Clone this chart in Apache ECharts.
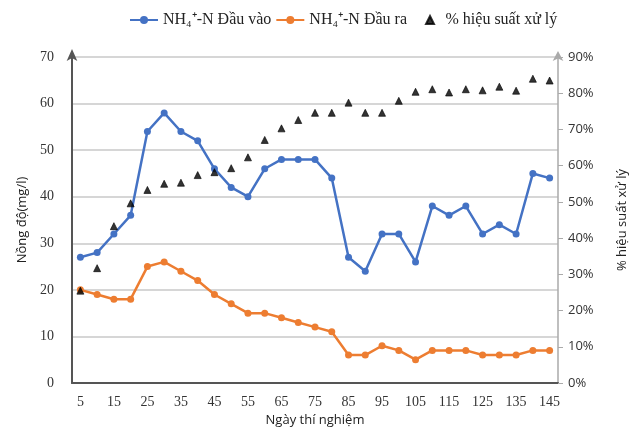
<!DOCTYPE html>
<html>
<head>
<meta charset="utf-8">
<script src="https://cdn.jsdelivr.net/npm/echarts@6/dist/echarts.min.js"></script>
<style>html,body{margin:0;padding:0;background:#fff}#c{width:631px;height:442px}</style>
</head>
<body>
<div id="c"></div>
<script>
var days = [5,10,15,20,25,30,35,40,45,50,55,60,65,70,75,80,85,90,95,100,105,110,115,120,125,130,135,140,145];
var inflow = [27,28,32,36,54,58,54,52,46,42,40,46,48,48,48,44,27,24,32,32,26,38,36,38,32,34,32,45,44];
var outflow = [20,19,18,18,25,26,24,22,19,17,15,15,14,13,12,11,6,6,8,7,5,7,7,7,6,6,6,7,7];
var efficiency = [25.5,31.7,43.3,49.6,53.3,55,55.3,57.4,58.2,59.3,62.3,67.1,70.3,72.6,74.6,74.6,77.4,74.6,74.6,77.9,80.4,81.1,80.2,81.1,80.8,81.8,80.7,84,83.5];
var leftTicks = {min:0, max:70, interval:10};
var rightTicks = {min:0, max:90, interval:10};

var chart = echarts.init(document.getElementById('c'));
var serif = 'Liberation Serif';
var sans = 'Open Sans';
var tri = 'path://M5,0 L10,10 L0,10 Z';
chart.setOption({
  animation: false,
  backgroundColor: '#fff',
  legend: [{
    top: 7, left: 124, itemGap: 4, itemWidth: 28, itemHeight: 10,
    textStyle: {fontFamily: serif, fontSize: 16, color: '#222'},
    data: ['NH₄⁺-N Đầu vào', 'NH₄⁺-N Đầu ra']
  },{
    top: 7, left: 420, itemWidth: 9, itemHeight: 8,
    textStyle: {fontFamily: serif, fontSize: 16, color: '#222', padding: [0,0,0,6]},
    data: [{name: '% hiệu suất xử lý', icon: tri, itemStyle:{color:'#000'}}]
  }],
  grid: {left: 72, right: 73, top: 57, bottom: 59, containLabel: false, outerBoundsMode: 'none'},
  xAxis: {
    type: 'category', data: days, boundaryGap: true,
    name: 'Ngày thí nghiệm', nameLocation: 'middle', nameGap: 31,
    nameTextStyle: {fontFamily: sans, fontSize: 13, color: '#222'},
    axisLine: {lineStyle: {color: '#555', width: 2}},
    axisTick: {show: false},
    axisLabel: {interval: 1, fontFamily: serif, fontSize: 14, color: '#333', margin: 12}
  },
  yAxis: [{
    type: 'value', min: leftTicks.min, max: leftTicks.max, interval: leftTicks.interval,
    name: 'Nồng độ(mg/l)', nameLocation: 'middle', nameGap: 43, nameRotate: 90,
    nameTextStyle: {fontFamily: sans, fontSize: 13, color: '#222'},
    axisLine: {show: true, lineStyle: {color: '#555', width: 2}, symbol: ['none','arrow'], symbolSize: [8,12], symbolOffset: [0, 8]},
    axisTick: {show: false},
    axisLabel: {fontFamily: serif, fontSize: 14, color: '#333', margin: 18},
    splitLine: {lineStyle: {color: '#c8c8c8', width: 1.5}}
  },{
    type: 'value', min: rightTicks.min, max: rightTicks.max, interval: rightTicks.interval,
    name: '% hiệu suất xử lý', nameLocation: 'middle', nameGap: 58, nameRotate: 90,
    nameTextStyle: {fontFamily: sans, fontSize: 13, color: '#222'},
    axisLine: {show: true, lineStyle: {color: '#aaa', width: 1.5}, symbol: ['none','arrow'], symbolSize: [8,10], symbolOffset: [0, 6]},
    axisTick: {show: true, length: 5, lineStyle: {color: '#aaa'}},
    axisLabel: {formatter: '{value}%', fontFamily: sans, fontSize: 13, color: '#333', margin: 10},
    splitLine: {show: false}
  }],
  series: [{
    name: 'NH₄⁺-N Đầu vào', type: 'line', data: inflow, yAxisIndex: 0,
    symbol: 'circle', symbolSize: 7, color: '#4472C4',
    lineStyle: {width: 2.5, color: '#4472C4'}, itemStyle: {color: '#4472C4'}
  },{
    name: 'NH₄⁺-N Đầu ra', type: 'line', data: outflow, yAxisIndex: 0,
    symbol: 'circle', symbolSize: 7, color: '#ED7D31',
    lineStyle: {width: 2.5, color: '#ED7D31'}, itemStyle: {color: '#ED7D31'}
  },{
    name: '% hiệu suất xử lý', type: 'scatter', data: efficiency, yAxisIndex: 1,
    symbol: 'triangle', symbolSize: 7, symbolKeepAspect: true,
    itemStyle: {color: '#000', borderColor: '#000', borderWidth: 0.8}, z: 5
  }]
});
</script>
</body>
</html>
